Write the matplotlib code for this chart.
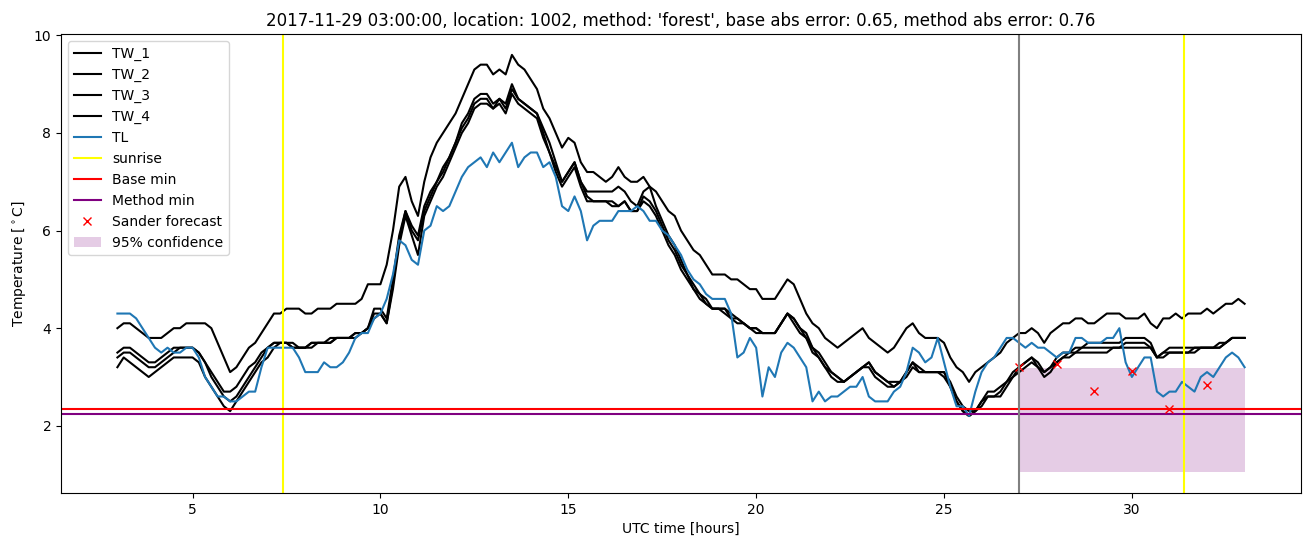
"""Forecast check plot: water/air temperature at location 1002 with min forecasts."""

import matplotlib
matplotlib.use("Agg")
import matplotlib.pyplot as plt
import numpy as np


# 10-minute samples, 03:00 on day 1 to 09:00 on day 2 (hours since midnight)
HOURS = np.arange(181) / 6 + 3

TW_1 = [
    4.0, 4.1, 4.1, 4.0, 3.9, 3.8,  3.8, 3.8, 3.9, 4.0, 4.0, 4.1,
    4.1, 4.1, 4.1, 4.0, 3.7, 3.4,  3.1, 3.2, 3.4, 3.6, 3.7, 3.9,
    4.1, 4.3, 4.3, 4.4, 4.4, 4.4,  4.3, 4.3, 4.4, 4.4, 4.4, 4.5,
    4.5, 4.5, 4.5, 4.6, 4.9, 4.9,  4.9, 5.3, 6.0, 6.9, 7.1, 6.6,
    6.3, 7.0, 7.5, 7.8, 8.0, 8.2,  8.4, 8.7, 9.0, 9.3, 9.4, 9.4,
    9.2, 9.3, 9.2, 9.6, 9.4, 9.3,  9.1, 8.9, 8.5, 8.3, 8.0, 7.7,
    7.9, 7.8, 7.4, 7.2, 7.2, 7.1,  7.0, 7.1, 7.3, 7.1, 7.0, 7.0,
    7.1, 6.9, 6.8, 6.6, 6.4, 6.3,  6.0, 5.8, 5.6, 5.5, 5.3, 5.1,
    5.1, 5.1, 5.0, 5.0, 4.9, 4.8,  4.8, 4.6, 4.6, 4.6, 4.8, 5.0,
    4.9, 4.6, 4.3, 4.1, 4.0, 3.8,  3.7, 3.6, 3.7, 3.8, 3.9, 4.0,
    3.8, 3.7, 3.6, 3.5, 3.6, 3.8,  4.0, 4.1, 3.9, 3.8, 3.8, 3.8,
    3.7, 3.4, 3.2, 3.1, 2.9, 3.1,  3.2, 3.3, 3.4, 3.5, 3.7, 3.8,
    3.9, 3.9, 4.0, 3.9, 3.7, 3.9,  4.0, 4.1, 4.1, 4.2, 4.2, 4.1,
    4.1, 4.2, 4.3, 4.3, 4.3, 4.2,  4.2, 4.2, 4.3, 4.1, 4.0, 4.2,
    4.2, 4.3, 4.2, 4.3, 4.3, 4.3,  4.4, 4.3, 4.4, 4.5, 4.5, 4.6,
    4.5,
]
TW_2 = [
    3.5, 3.6, 3.6, 3.5, 3.4, 3.3,  3.3, 3.4, 3.5, 3.6, 3.6, 3.6,
    3.6, 3.5, 3.3, 3.1, 2.9, 2.7,  2.7, 2.8, 3.0, 3.2, 3.3, 3.5,
    3.6, 3.7, 3.7, 3.7, 3.7, 3.6,  3.6, 3.7, 3.7, 3.7, 3.7, 3.8,
    3.8, 3.8, 3.9, 3.9, 4.0, 4.4,  4.4, 4.2, 5.0, 5.9, 6.4, 6.1,
    5.9, 6.5, 6.8, 7.0, 7.3, 7.5,  7.8, 8.2, 8.4, 8.7, 8.8, 8.8,
    8.6, 8.7, 8.6, 9.0, 8.7, 8.6,  8.5, 8.4, 8.1, 7.8, 7.4, 7.0,
    7.2, 7.4, 7.0, 6.8, 6.8, 6.8,  6.8, 6.8, 6.9, 6.8, 6.6, 6.5,
    6.8, 6.9, 6.5, 6.2, 5.9, 5.7,  5.4, 5.1, 4.9, 4.7, 4.6, 4.4,
    4.4, 4.4, 4.3, 4.2, 4.1, 4.0,  4.0, 3.9, 3.9, 3.9, 4.1, 4.3,
    4.2, 4.0, 3.9, 3.6, 3.5, 3.3,  3.1, 3.0, 2.9, 3.0, 3.1, 3.2,
    3.3, 3.1, 3.0, 2.9, 2.9, 2.9,  3.1, 3.3, 3.2, 3.1, 3.1, 3.1,
    3.1, 2.9, 2.6, 2.4, 2.3, 2.3,  2.5, 2.7, 2.7, 2.8, 2.9, 3.1,
    3.2, 3.3, 3.4, 3.3, 3.1, 3.2,  3.4, 3.5, 3.5, 3.6, 3.6, 3.7,
    3.7, 3.7, 3.7, 3.7, 3.7, 3.8,  3.8, 3.8, 3.8, 3.7, 3.4, 3.5,
    3.6, 3.6, 3.6, 3.6, 3.6, 3.6,  3.6, 3.6, 3.7, 3.7, 3.8, 3.8,
    3.8,
]
TW_3 = [
    3.4, 3.5, 3.5, 3.4, 3.3, 3.2,  3.2, 3.3, 3.4, 3.5, 3.6, 3.6,
    3.6, 3.5, 3.3, 3.0, 2.8, 2.6,  2.5, 2.6, 2.8, 3.0, 3.2, 3.4,
    3.6, 3.7, 3.7, 3.7, 3.6, 3.6,  3.6, 3.7, 3.7, 3.7, 3.8, 3.8,
    3.8, 3.8, 3.9, 3.9, 4.0, 4.3,  4.3, 4.1, 4.9, 5.8, 6.4, 6.0,
    5.8, 6.4, 6.7, 7.0, 7.2, 7.5,  7.8, 8.1, 8.3, 8.6, 8.7, 8.7,
    8.5, 8.7, 8.5, 8.9, 8.7, 8.6,  8.5, 8.4, 8.0, 7.6, 7.3, 7.0,
    7.2, 7.4, 7.0, 6.7, 6.6, 6.6,  6.6, 6.6, 6.5, 6.6, 6.4, 6.4,
    6.7, 6.6, 6.4, 6.1, 5.8, 5.6,  5.3, 5.1, 4.8, 4.7, 4.5, 4.4,
    4.4, 4.4, 4.2, 4.2, 4.1, 4.0,  4.0, 3.9, 3.9, 3.9, 4.1, 4.3,
    4.2, 4.0, 3.8, 3.6, 3.4, 3.2,  3.1, 3.0, 2.9, 3.0, 3.1, 3.2,
    3.3, 3.1, 3.0, 2.9, 2.8, 2.9,  3.1, 3.3, 3.1, 3.1, 3.1, 3.1,
    3.1, 2.8, 2.5, 2.3, 2.2, 2.3,  2.5, 2.6, 2.6, 2.7, 2.9, 3.0,
    3.2, 3.3, 3.4, 3.2, 3.1, 3.2,  3.3, 3.4, 3.5, 3.5, 3.6, 3.6,
    3.6, 3.6, 3.6, 3.6, 3.6, 3.7,  3.7, 3.7, 3.7, 3.6, 3.4, 3.5,
    3.5, 3.5, 3.5, 3.5, 3.6, 3.6,  3.6, 3.6, 3.6, 3.7, 3.8, 3.8,
    3.8,
]
TW_4 = [
    3.2, 3.4, 3.3, 3.2, 3.1, 3.0,  3.1, 3.2, 3.3, 3.4, 3.4, 3.4,
    3.4, 3.3, 3.0, 2.8, 2.6, 2.4,  2.3, 2.5, 2.7, 2.9, 3.1, 3.3,
    3.4, 3.6, 3.7, 3.7, 3.6, 3.6,  3.6, 3.6, 3.7, 3.7, 3.7, 3.8,
    3.8, 3.8, 3.8, 3.9, 4.0, 4.2,  4.3, 4.1, 4.8, 5.7, 6.3, 5.9,
    5.5, 6.3, 6.6, 6.9, 7.1, 7.4,  7.7, 8.0, 8.2, 8.5, 8.6, 8.6,
    8.5, 8.6, 8.4, 8.8, 8.6, 8.5,  8.4, 8.3, 7.9, 7.6, 7.2, 6.9,
    7.1, 7.3, 6.9, 6.6, 6.6, 6.6,  6.6, 6.5, 6.5, 6.6, 6.4, 6.4,
    6.6, 6.5, 6.3, 6.0, 5.7, 5.5,  5.2, 5.0, 4.8, 4.6, 4.5, 4.4,
    4.4, 4.3, 4.2, 4.1, 4.1, 4.0,  3.9, 3.9, 3.9, 3.9, 4.1, 4.3,
    4.1, 3.9, 3.8, 3.5, 3.4, 3.2,  3.0, 2.9, 2.9, 3.0, 3.1, 3.2,
    3.2, 3.0, 2.9, 2.8, 2.8, 2.9,  3.0, 3.2, 3.1, 3.1, 3.1, 3.1,
    3.0, 2.8, 2.5, 2.3, 2.2, 2.3,  2.4, 2.6, 2.6, 2.6, 2.8, 3.0,
    3.1, 3.2, 3.3, 3.2, 3.0, 3.1,  3.3, 3.4, 3.4, 3.5, 3.5, 3.5,
    3.5, 3.5, 3.5, 3.6, 3.6, 3.6,  3.6, 3.6, 3.6, 3.6, 3.4, 3.4,
    3.5, 3.5, 3.5, 3.5, 3.5, 3.6,  3.6, 3.6, 3.6, 3.7, 3.8, 3.8,
    3.8,
]
TL = [
    4.3, 4.3, 4.3, 4.2, 4.0, 3.8,  3.6, 3.5, 3.6, 3.5, 3.5, 3.6,
    3.6, 3.4, 3.0, 2.8, 2.6, 2.6,  2.5, 2.5, 2.6, 2.7, 2.7, 3.2,
    3.6, 3.6, 3.6, 3.6, 3.6, 3.4,  3.1, 3.1, 3.1, 3.3, 3.2, 3.2,
    3.3, 3.5, 3.8, 3.9, 3.9, 4.2,  4.3, 4.6, 5.1, 5.8, 5.7, 5.4,
    5.3, 6.0, 6.1, 6.5, 6.4, 6.5,  6.8, 7.1, 7.3, 7.4, 7.5, 7.3,
    7.6, 7.4, 7.6, 7.8, 7.3, 7.5,  7.6, 7.6, 7.3, 7.4, 7.1, 6.5,
    6.4, 6.7, 6.4, 5.8, 6.1, 6.2,  6.2, 6.2, 6.4, 6.4, 6.4, 6.5,
    6.4, 6.2, 6.2, 6.0, 5.9, 5.7,  5.5, 5.2, 5.0, 4.9, 4.7, 4.6,
    4.6, 4.6, 4.3, 3.4, 3.5, 3.8,  3.6, 2.6, 3.2, 3.0, 3.5, 3.7,
    3.6, 3.4, 3.2, 2.5, 2.7, 2.5,  2.6, 2.6, 2.7, 2.8, 2.8, 3.0,
    2.6, 2.5, 2.5, 2.5, 2.7, 2.8,  3.1, 3.6, 3.5, 3.3, 3.4, 3.8,
    3.3, 2.8, 2.4, 2.4, 2.2, 2.7,  3.1, 3.3, 3.4, 3.6, 3.8, 3.8,
    3.7, 3.6, 3.7, 3.6, 3.6, 3.5,  3.4, 3.5, 3.5, 3.8, 3.8, 3.7,
    3.7, 3.7, 3.8, 3.8, 4.0, 3.3,  3.0, 3.2, 3.4, 3.4, 2.7, 2.6,
    2.7, 2.7, 2.9, 2.8, 2.7, 3.0,  3.1, 3.0, 3.2, 3.4, 3.5, 3.4,
    3.2,
]

SUNRISE_HOURS = [7.42, 31.38]
FORECAST_START = 27.0
BASE_MIN = 2.35
METHOD_MIN = 2.24

SANDER_HOURS = [27, 28, 29, 30, 31, 32]
SANDER_VALUES = [3.20, 3.27, 2.71, 3.13, 2.35, 2.83]

CONF_HOURS = [27, 33]
CONF_LOW = [1.05, 1.05]
CONF_HIGH = [3.18, 3.18]

TITLE = ("2017-11-29 03:00:00, location: 1002, method: 'forest', "
         "base abs error: 0.65, method abs error: 0.76")


def main() -> None:
    fig = plt.figure(figsize=(13.1, 5.47), dpi=100)
    ax = fig.add_axes([0.0466, 0.0987, 0.9465, 0.8391])

    for label, series in [("TW_1", TW_1), ("TW_2", TW_2), ("TW_3", TW_3), ("TW_4", TW_4)]:
        ax.plot(HOURS, series, color="black", label=label)
    ax.plot(HOURS, TL, color="#1f77b4", label="TL")

    for i, hour in enumerate(SUNRISE_HOURS):
        ax.axvline(hour, color="yellow", label="sunrise" if i == 0 else None)
    ax.axhline(BASE_MIN, color="red", label="Base min")
    ax.axhline(METHOD_MIN, color="purple", label="Method min")
    ax.plot(SANDER_HOURS, SANDER_VALUES, "x", color="red", label="Sander forecast")
    ax.fill_between(CONF_HOURS, CONF_LOW, CONF_HIGH, color="purple", alpha=0.2,
                    linewidth=0, label="95% confidence")
    ax.axvline(FORECAST_START, color="gray")

    ax.set_title(TITLE)
    ax.set_xlabel("UTC time [hours]")
    ax.set_ylabel(r"Temperature [$^\circ$C]")
    ax.legend(loc="upper left")

    fig.savefig("out.png", dpi=100)
    plt.close(fig)


if __name__ == "__main__":
    main()
